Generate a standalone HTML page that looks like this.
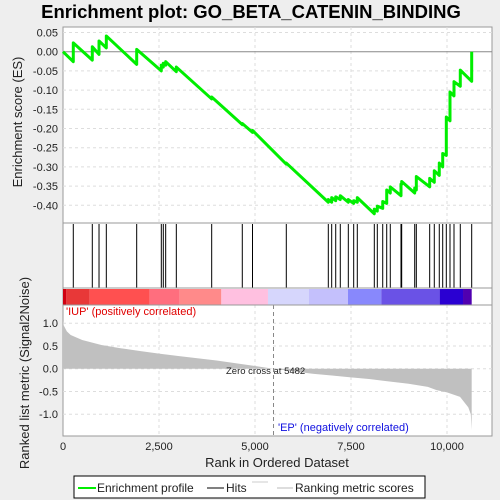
<!DOCTYPE html>
<html><head><meta charset="utf-8">
<style>
html,body{margin:0;padding:0;background:#eeeeee;}
svg{display:block;font-family:"Liberation Sans","DejaVu Sans",sans-serif;}
</style></head>
<body>
<svg id="chart" width="500" height="500" viewBox="0 0 500 500">
<rect x="0" y="0" width="500" height="500" fill="#eeeeee"/>
<text x="251" y="18" text-anchor="middle" font-size="18.5" font-weight="bold" fill="#000">Enrichment plot: GO_BETA_CATENIN_BINDING</text>
<rect x="63" y="27" width="429" height="409" fill="#fff" stroke="#999"/>
<g id="grid"></g>
<g id="top"></g>
<g id="hits"></g>
<g id="cbar"></g>
<g id="bottom"></g>
<g id="axes"></g>
<text transform="translate(22,122) rotate(-90)" text-anchor="middle" font-size="13" fill="#222">Enrichment score (ES)</text>
<text transform="translate(29,373) rotate(-90)" text-anchor="middle" font-size="13" fill="#222">Ranked list metric (Signal2Noise)</text>
<text x="277" y="467" text-anchor="middle" font-size="13" fill="#222">Rank in Ordered Dataset</text>
<text x="66" y="315" font-size="11" fill="#e00000">'IUP' (positively correlated)</text>
<text x="278" y="431" font-size="11" fill="#1010e0">'EP' (negatively correlated)</text>
<text x="226" y="374" font-size="9.5" fill="#222">Zero cross at 5482</text>
<g>
<rect x="74" y="476" width="351" height="22" fill="#fff" stroke="#000"/>
<line x1="78" y1="488" x2="96" y2="488" stroke="#00ee00" stroke-width="2"/>
<text x="97" y="492" font-size="12" fill="#222">Enrichment profile</text>
<line x1="207" y1="488" x2="224" y2="488" stroke="#000" stroke-width="1"/>
<text x="226" y="492" font-size="12" fill="#222">Hits</text>
<line x1="252" y1="482" x2="268" y2="482" stroke="#ccc" stroke-width="1"/>
<line x1="277" y1="488" x2="293" y2="488" stroke="#bbb" stroke-width="1"/>
<text x="295" y="492" font-size="12" fill="#222">Ranking metric scores</text>
</g>
</svg>
<script>
const hitRanks=[268,763,938,1128,1919,2560,2612,2674,2951,3872,4669,4935,5815,6909,6997,7102,7221,7430,7570,7664,8107,8185,8326,8430,8523,8802,8820,9159,9201,9549,9669,9799,9888,9982,10078,10182,10346,10643];
const troughES=[-0.026,-0.022,-0.007,0.010,-0.033,-0.050,-0.040,-0.035,-0.052,-0.123,-0.190,-0.210,-0.293,-0.392,-0.392,-0.388,-0.385,-0.392,-0.395,-0.392,-0.422,-0.415,-0.408,-0.395,-0.368,-0.375,-0.345,-0.368,-0.360,-0.352,-0.340,-0.322,-0.300,-0.270,-0.180,-0.115,-0.090,-0.077];
const peakES=[0.023,0.013,0.028,0.041,0.006,-0.035,-0.030,-0.026,-0.040,-0.118,-0.187,-0.205,-0.290,-0.385,-0.380,-0.378,-0.375,-0.385,-0.388,-0.380,-0.410,-0.402,-0.390,-0.360,-0.352,-0.345,-0.338,-0.355,-0.325,-0.330,-0.310,-0.290,-0.265,-0.170,-0.105,-0.078,-0.048,0.0];
const metricRanks=[0,20,100,200,500,1000,1500,2000,2500,3000,3500,4000,4500,5000,5482,6000,6500,7000,7500,8000,8500,9000,9500,9730,10000,10340,10555,10620,10643];
const metricValues=[1.05,0.95,0.82,0.74,0.63,0.52,0.45,0.39,0.33,0.28,0.23,0.18,0.12,0.06,0,-0.06,-0.11,-0.15,-0.19,-0.23,-0.28,-0.33,-0.40,-0.47,-0.52,-0.62,-0.85,-1.0,-1.35];
const xTicks=[0,2500,5000,7500,10000];
const xTickLabels=["0","2,500","5,000","7,500","10,000"];
const esTicks=[0.05,0,-0.05,-0.1,-0.15,-0.2,-0.25,-0.3,-0.35,-0.4];
const esTickLabels=["0.05","0.00","-0.05","-0.10","-0.15","-0.20","-0.25","-0.30","-0.35","-0.40"];
const mTicks=[1,0.5,0,-0.5,-1];
const mTickLabels=["1.0","0.5","0.0","-0.5","-1.0"];
const zeroCross=5482;
const barStops=[0,87,694,2257,3038,4123,5338,6406,7422,8290,9809,10417,10643];
const barColors=["#d00010","#e83838","#ff5050","#ff6e7e","#ff8a8a","#ffc0e0","#d6d6fc","#c4c0fc","#8888fc","#6a52e6","#2a00d2","#5000b0"];

const NS="http://www.w3.org/2000/svg";
const X=r=>63+r*0.0384;
const YE=v=>51.7-v*384;
const YM=v=>368.7-v*45.5;
function mk(p,tag,attrs){const e=document.createElementNS(NS,tag);for(const k in attrs)e.setAttribute(k,attrs[k]);document.getElementById(p).appendChild(e);return e;}

xTicks.forEach((t,i)=>{if(t===0)return;
 let g=mk('grid','line',{x1:X(t),x2:X(t),y1:27,y2:223,stroke:'#ddd','stroke-dasharray':'3,3'});
 
 
 let g2=mk('grid','line',{x1:X(t),x2:X(t),y1:305,y2:436,stroke:'#ddd','stroke-dasharray':'3,3'});
 
 
});
esTicks.forEach((t,i)=>{
 let g=mk('grid','line',{x1:63,x2:492,y1:YE(t),y2:YE(t),stroke:t===0?'#888':'#ddd','stroke-dasharray':t===0?'':'3,3'});
 
 
 let tx=mk('axes','text',{x:58,y:YE(t)+4,'text-anchor':'end','font-size':11,fill:'#222'});
 tx.textContent=esTickLabels[i];
 
 
});
mTicks.forEach((t,i)=>{
 let g=mk('grid','line',{x1:63,x2:492,y1:YM(t),y2:YM(t),stroke:'#ddd','stroke-dasharray':'3,3'});
 
 
 let tx=mk('axes','text',{x:58,y:YM(t)+4,'text-anchor':'end','font-size':11,fill:'#222'});
 tx.textContent=mTickLabels[i];
 
 
});
xTicks.forEach((t,i)=>{
 let tx=mk('axes','text',{x:X(t),y:450,'text-anchor':'middle','font-size':11,fill:'#222'});
 tx.textContent=xTickLabels[i];
 
 
});
[223,288,305].forEach(y=>{let l=mk('axes','line',{x1:63,x2:492,y1:y,y2:y,stroke:'#999'});
 
 });

let pts=[[X(0),YE(0)]];
hitRanks.forEach((r,i)=>{pts.push([X(r),YE(troughES[i])]);pts.push([X(r),YE(peakES[i])]);});
let es=mk('top','polyline',{points:pts.map(p=>p.join(',')).join(' '),fill:'none',stroke:'#00ee00','stroke-width':3,'stroke-linejoin':'round'});



hitRanks.forEach(r=>{let l=mk('hits','line',{x1:X(r),x2:X(r),y1:224,y2:288,stroke:'#000','stroke-width':1});
 
 });

barColors.forEach((c,i)=>{let rc=mk('cbar','rect',{x:X(barStops[i]),y:289,width:X(barStops[i+1])-X(barStops[i]),height:16,fill:c});
 
 });

let mp=[[X(metricRanks[0]),YM(0)]];
metricRanks.forEach((r,i)=>mp.push([X(r),YM(metricValues[i])]));
mp.push([X(metricRanks[metricRanks.length-1]),YM(0)]);
let area=mk('bottom','polygon',{points:mp.map(p=>p.join(',')).join(' '),fill:'#c0c0c0',stroke:'none'});


let zl=mk('bottom','line',{x1:X(zeroCross),x2:X(zeroCross),y1:305,y2:436,stroke:'#888','stroke-dasharray':'4,3'});


</script>
</body></html>
